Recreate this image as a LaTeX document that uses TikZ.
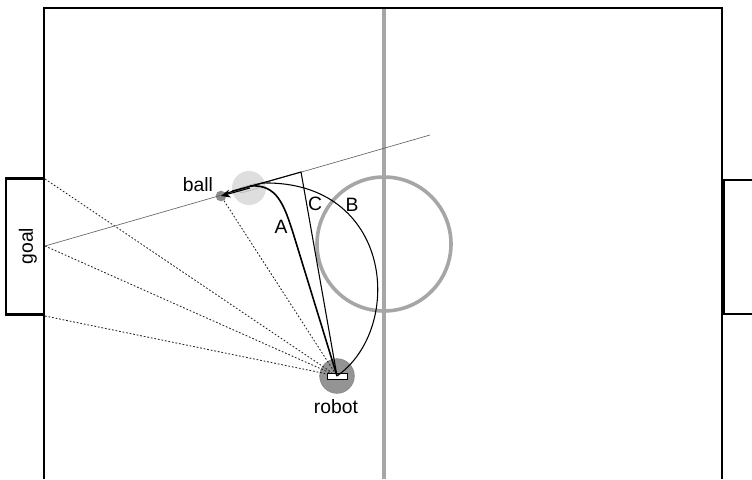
\documentclass[tikz,border=0pt]{standalone}
\usepackage{fontspec}
\setmainfont{Liberation Sans}
\usetikzlibrary{arrows.meta}
\tikzset{
  px/.style={x=0.75pt,y=-0.75pt},
  field/.style={draw=black,line width=1.35pt},
  fieldmark/.style={draw=black!35,line width=2.7pt},
  goalbox/.style={draw=black,line width=1.7pt,fill=white},
  sight/.style={draw=black!85,dash pattern=on 1.3pt off 1.4pt,line width=0.65pt},
  tangent/.style={draw=black!60,line width=0.5pt},
  pathA/.style={draw=black,line width=1.2pt},
  paththin/.style={draw=black,line width=0.8pt},
  lbl/.style={font=\fontsize{14.5pt}{16pt}\selectfont,inner sep=0pt,text=black},
}
\begin{document}
\begin{tikzpicture}[px]
\useasboundingbox (0,0) rectangle (752,479);
% field
\draw[fieldmark] (384,8) -- (384,479);
\draw[fieldmark] (384,244) circle (67);
\draw[field] (44,479) -- (44,8) -- (722,8) -- (722,479);
% goals
\node[goalbox,minimum width=28.5pt,minimum height=102pt,inner sep=0pt] (goalL) at (25,246.5) {};
\node[lbl,rotate=90] (goaltext) at (28,246) {goal};
\draw[goalbox] (752,180) -- (723.5,180) -- (723.5,314) -- (752,314);
% ghost ball & robot
\node[circle,fill=black!13,minimum size=25.5pt,inner sep=0pt] (ghost) at (249,188) {};
\node[draw=black!30,rounded corners=1.5pt,line width=0.4pt,minimum width=15pt,minimum height=4pt,inner sep=0pt,rotate=16] (ghostkicker) at (249,188) {};
\node[circle,fill=black!42,draw=black!50,line width=0.4pt,minimum size=26pt,inner sep=0pt] (robotbody) at (337,376) {};
\node[circle,fill=black!45,minimum size=8pt,inner sep=0pt] (ball) at (221,196) {};
\node[draw=black,fill=white,line width=0.6pt,minimum width=15pt,minimum height=4.5pt,inner sep=0pt] (kicker) at (337,376) {};
\coordinate (rc) at (337,376);
\coordinate (gl) at (45,179);
\coordinate (gm) at (45,246);
\coordinate (gb) at (45,316);
\coordinate (tstart) at (45,246);
\coordinate (tend) at (430,135);
\coordinate (apex) at (301,172);
% sight lines
\draw[sight] (gl) -- (kicker);
\draw[sight] (gm) -- (kicker);
\draw[sight] (gb) -- (kicker);
\draw[sight] (ball) -- (kicker);
\draw[tangent] (tstart) -- (tend);
% paths
\draw[pathA] (rc) -- (294,236) .. controls (284,204) and (277,184) .. (250,186);
\draw[paththin] (rc) .. controls (405,328) and (393,180) .. (262,183) -- (232,191);
\draw[paththin] (rc) -- (apex) -- (225,193.5);
\draw[paththin,-{Stealth[length=7pt,width=6pt]}] (250,188) -- (ball.center);
% labels
\node[lbl] (ballt) at (198,185) {ball};
\node[lbl] (robott) at (336,407) {robot};
\node[lbl] (A) at (281,227) {A};
\node[lbl] (C) at (315,204) {C};
\node[lbl] (B) at (352,205) {B};
\end{tikzpicture}
\end{document}
